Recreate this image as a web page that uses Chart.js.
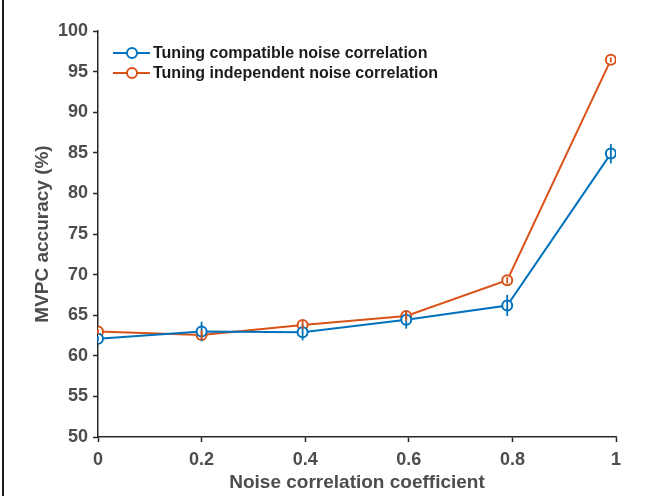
<!DOCTYPE html>
<html lang="en">
<head>
    <meta charset="UTF-8">
    <title>MVPC accuracy vs noise correlation</title>
    <style>
        body {
            margin: 0;
            padding: 0;
            background-color: #fff;
        }

        .frame {
            position: relative;
            width: 645px;
            height: 496px;
        }

        .edge {
            position: absolute;
            left: 2px;
            top: 0;
            width: 2px;
            height: 496px;
            background-color: #1a1a1a;
        }
    </style>
</head>
<body>
    <div class="frame">
        <div class="edge"></div>
        <canvas id="accuracy-chart" width="645" height="496"></canvas>
    </div>

    <script src="https://cdn.jsdelivr.net/npm/chart.js"></script>
    <script>
        // data
        const noiseCorr = [0, 0.2, 0.395, 0.595, 0.79, 0.99];
        const compatibleAcc = [62.1, 63.0, 62.9, 64.45, 66.2, 84.9];
        const compatibleErr = [0.3, 1.2, 1.0, 1.1, 1.3, 1.2];
        const independentAcc = [63.0, 62.55, 63.8, 64.9, 69.3, 96.45];
        const independentErr = [0.3, 0.6, 0.5, 0.6, 0.4, 0.3];
        const seriesNames = ['Tuning compatible noise correlation', 'Tuning independent noise correlation'];
        const seriesColors = ['#0072BD', '#D95319'];

        const labelGray = '#4d4d4d';
        const axisGray = '#262626';
        const fontFamily = '"Liberation Sans", Arial, sans-serif';

        function toPoints(xs, ys) {
            return xs.map((x, i) => ({ x: x, y: ys[i] }));
        }

        // vertical error bars, drawn on top of the lines
        const errorBars = {
            id: 'errorBars',
            afterDatasetsDraw(chart) {
                const ctx = chart.ctx;
                const xScale = chart.scales.x;
                const yScale = chart.scales.y;
                const errs = [compatibleErr, independentErr];
                chart.data.datasets.forEach((ds, di) => {
                    ctx.save();
                    ctx.strokeStyle = ds.borderColor;
                    ctx.lineWidth = 1.8;
                    ds.data.forEach((p, i) => {
                        const px = xScale.getPixelForValue(p.x);
                        const top = yScale.getPixelForValue(p.y + errs[di][i]);
                        const bottom = yScale.getPixelForValue(p.y - errs[di][i]);
                        ctx.beginPath();
                        ctx.moveTo(px, top);
                        ctx.lineTo(px, bottom);
                        ctx.stroke();
                    });
                    ctx.restore();
                });
            }
        };

        // legend inside the plot, top-left, like the original figure
        const innerLegend = {
            id: 'innerLegend',
            afterDraw(chart) {
                const ctx = chart.ctx;
                const x0 = 113;
                const rows = [53, 73];
                ctx.save();
                seriesNames.forEach((name, i) => {
                    const y = rows[i];
                    ctx.strokeStyle = seriesColors[i];
                    ctx.lineWidth = 2;
                    ctx.beginPath();
                    ctx.moveTo(x0, y);
                    ctx.lineTo(x0 + 37, y);
                    ctx.stroke();
                    ctx.fillStyle = '#fff';
                    ctx.beginPath();
                    ctx.arc(x0 + 19, y, 5, 0, Math.PI * 2);
                    ctx.fill();
                    ctx.stroke();
                    ctx.fillStyle = '#1a1a1a';
                    ctx.font = 'bold 16px ' + fontFamily;
                    ctx.textBaseline = 'middle';
                    ctx.fillText(name, x0 + 40, y + 1);
                });
                ctx.restore();
            }
        };

        new Chart(document.getElementById('accuracy-chart'), {
            type: 'line',
            data: {
                datasets: [{
                    label: seriesNames[0],
                    data: toPoints(noiseCorr, compatibleAcc),
                    borderColor: seriesColors[0],
                    backgroundColor: '#fff',
                    borderWidth: 2,
                    pointRadius: 5,
                    pointBorderWidth: 2,
                    tension: 0
                }, {
                    label: seriesNames[1],
                    data: toPoints(noiseCorr, independentAcc),
                    borderColor: seriesColors[1],
                    backgroundColor: '#fff',
                    borderWidth: 2,
                    pointRadius: 5,
                    pointBorderWidth: 2,
                    tension: 0
                }]
            },
            options: {
                responsive: false,
                animation: false,
                layout: {
                    padding: { left: 0, right: 29, top: 31, bottom: 0 }
                },
                plugins: {
                    legend: { display: false },
                    tooltip: { enabled: false }
                },
                scales: {
                    x: {
                        type: 'linear',
                        min: 0,
                        max: 1,
                        afterFit(scale) { scale.height = 59; },
                        ticks: {
                            stepSize: 0.2,
                            padding: 7,
                            color: labelGray,
                            font: { family: fontFamily, size: 18, weight: 'bold' },
                            callback: (value) => String(Number(value.toFixed(1)))
                        },
                        grid: {
                            drawOnChartArea: false,
                            drawTicks: true,
                            tickLength: 5,
                            tickWidth: 1.5,
                            color: axisGray
                        },
                        border: { color: axisGray, width: 1.5 },
                        title: {
                            display: true,
                            text: 'Noise correlation coefficient',
                            color: labelGray,
                            padding: { top: 0, bottom: 2 },
                            font: { family: fontFamily, size: 19, weight: 'bold' }
                        }
                    },
                    y: {
                        min: 50,
                        max: 100,
                        afterFit(scale) { scale.width = 98; },
                        ticks: {
                            stepSize: 5,
                            padding: 5,
                            color: labelGray,
                            font: { family: fontFamily, size: 18, weight: 'bold' }
                        },
                        grid: {
                            drawOnChartArea: false,
                            drawTicks: true,
                            tickLength: 5,
                            tickWidth: 1.5,
                            color: axisGray
                        },
                        border: { color: axisGray, width: 1.5 },
                        title: {
                            display: true,
                            text: 'MVPC accuracy (%)',
                            color: labelGray,
                            padding: { top: 31, bottom: 0 },
                            font: { family: fontFamily, size: 19, weight: 'bold' }
                        }
                    }
                }
            },
            plugins: [errorBars, innerLegend]
        });
    </script>
</body>
</html>
